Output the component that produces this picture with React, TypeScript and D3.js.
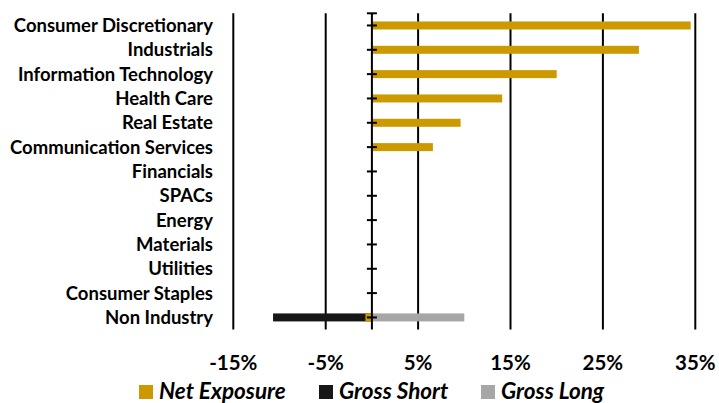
import React from 'react';
import * as d3 from 'd3';

const categories = [
  'Consumer Discretionary', 'Industrials', 'Information Technology', 'Health Care',
  'Real Estate', 'Communication Services', 'Financials', 'SPACs', 'Energy',
  'Materials', 'Utilities', 'Consumer Staples', 'Non Industry',
];
const netExposure = [34.5, 28.9, 20.0, 14.1, 9.6, 6.6, 0, 0, 0, 0, 0, 0, -0.7];
const grossShort = [0, 0, 0, 0, 0, 0, 0, 0, 0, 0, 0, 0, -10.7];
const grossLong = [0, 0, 0, 0, 0, 0, 0, 0, 0, 0, 0, 0, 10.0];
const xTicks = [-15, -5, 5, 15, 25, 35];
const seriesNames = ['Net Exposure', 'Gross Short', 'Gross Long'];
const seriesColors = ['#CC9900', '#171717', '#A6A6A6'];

const W = 719, H = 403;
const font = 'Lato, "Open Sans", sans-serif';

export default function App() {
  const x = d3.scaleLinear().domain([-15, 35]).range([233.3, 695.3]);
  const y = d3.scaleBand().domain(categories).range([13.3, 329.6]);
  const barH = 8;
  const cy = (c: string) => (y(c) as number) + y.bandwidth() / 2;

  const bar = (vals: number[], color: string, key: string) =>
    vals.map((v, i) => {
      if (!v) return null;
      const c = categories[i];
      return (
        <rect key={key + i} x={x(Math.min(0, v))} y={cy(c) - barH / 2}
          width={Math.abs(x(v) - x(0))} height={barH} fill={color} />
      );
    });

  const legendX = [139, 319, 481];

  return (
    <svg width={W} height={H} style={{ position: 'absolute', left: 0, top: 0 }}>
      <rect width={W} height={H} fill="#fff" />
      {xTicks.map(t => (
        <line key={'g' + t} x1={x(t)} x2={x(t)} y1={13.3} y2={329.6} stroke="#000" strokeWidth={2} />
      ))}
      {bar(grossLong, seriesColors[2], 'l')}
      {bar(grossShort, seriesColors[1], 's')}
      {bar(netExposure, seriesColors[0], 'n')}
      <line x1={x(0)} x2={x(0)} y1={13.3} y2={329.6} stroke="#000" strokeWidth={2} />
      <line x1={x(0) - 5} x2={x(0) + 5} y1={13.3} y2={13.3} stroke="#000" strokeWidth={2} />
      {categories.map(c => (
        <line key={'t' + c} x1={x(0) - 5} x2={x(0) + 5} y1={cy(c)} y2={cy(c)} stroke="#000" strokeWidth={2} />
      ))}
      {categories.map(c => (
        <text key={'c' + c} x={213} y={cy(c)} dy="0.35em" textAnchor="end"
          fontFamily={font} fontWeight="bold" fontSize={18.5} fill="#000">{c}</text>
      ))}
      {xTicks.map(t => (
        <text key={'x' + t} x={x(t)} y={362.5} dy="0.35em" textAnchor="middle"
          fontFamily={font} fontWeight="bold" fontSize={20.5} fill="#000">{t + '%'}</text>
      ))}
      {seriesNames.map((s, i) => (
        <g key={s}>
          <rect x={legendX[i]} y={385} width={14} height={14} fill={seriesColors[i]} />
          <text x={legendX[i] + 20} y={391} dy="0.35em" fontFamily={font} fontWeight="bold"
            fontStyle="italic" fontSize={22.5} fill="#000">{s}</text>
        </g>
      ))}
    </svg>
  );
}
